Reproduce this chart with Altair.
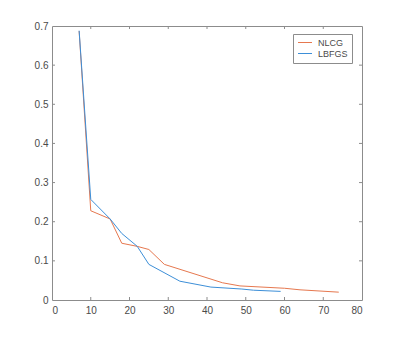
import altair as alt
import pandas as pd

# Data
nlcg_x = [7, 10, 15, 18, 22, 25, 29, 44, 48.5, 60, 64, 74]
nlcg_y = [0.687, 0.228, 0.207, 0.145, 0.137, 0.129, 0.091, 0.044, 0.036, 0.030, 0.026, 0.020]
lbfgs_x = [7, 10, 15, 18, 22, 25, 33, 41, 49, 52, 59]
lbfgs_y = [0.688, 0.257, 0.207, 0.170, 0.137, 0.091, 0.048, 0.033, 0.028, 0.025, 0.022]
methods = ["NLCG", "LBFGS"]
colors = ["#e6784f", "#3d8fd8"]
x_ticks = [0, 10, 20, 30, 40, 50, 60, 70, 80]
y_ticks = [0, 0.1, 0.2, 0.3, 0.4, 0.5, 0.6, 0.7]

rows = [{"iter": x, "err": y, "method": "NLCG"} for x, y in zip(nlcg_x, nlcg_y)]
rows += [{"iter": x, "err": y, "method": "LBFGS"} for x, y in zip(lbfgs_x, lbfgs_y)]
df = pd.DataFrame(rows)

W, H = 310, 274
FONT = "Liberation Sans"
AXC = "#8c8c8c"
TXT = "#4a4a4a"

xs = alt.Scale(domain=[0, 80], nice=False, zero=False)
ys = alt.Scale(domain=[0, 0.7], nice=False)
xaxis = alt.Axis(values=x_ticks, title=None, tickSize=0, domain=False, grid=False,
                 labelPadding=5, labelFontSize=10, labelColor=TXT, labelFont=FONT)
yaxis = alt.Axis(values=y_ticks, format="~g", title=None, tickSize=0, domain=False, grid=False,
                 labelPadding=4, labelFontSize=10, labelColor=TXT, labelFont=FONT)

lines = alt.Chart(df).mark_line(strokeWidth=1, clip=True).encode(
    x=alt.X("iter:Q", scale=xs, axis=xaxis),
    y=alt.Y("err:Q", scale=ys, axis=yaxis),
    color=alt.Color("method:N", scale=alt.Scale(domain=methods, range=colors),
                    legend=alt.Legend(title=None, orient="none", legendX=241, legendY=8,
                                      strokeColor=AXC, fillColor="white", padding=4,
                                      symbolType="M-1,0H3", symbolSize=49, symbolStrokeWidth=1,
                                      labelFontSize=9, labelFont=FONT, labelColor=TXT,
                                      rowPadding=1, labelOffset=12)),
)

xt = pd.DataFrame({"iter": x_ticks[1:-1]})
yt = pd.DataFrame({"err": y_ticks[1:-1]})

bottom = alt.Chart(xt).mark_rule(color=AXC, strokeWidth=1).encode(
    x=alt.X("iter:Q", scale=xs, axis=xaxis), y=alt.value(H), y2=alt.value(H - 3))
top = alt.Chart(xt).mark_rule(color=AXC, strokeWidth=1).encode(
    x=alt.X("iter:Q", scale=xs, axis=xaxis), y=alt.value(0), y2=alt.value(3))
left = alt.Chart(yt).mark_rule(color=AXC, strokeWidth=1).encode(
    y=alt.Y("err:Q", scale=ys, axis=yaxis), x=alt.value(0), x2=alt.value(3))
right = alt.Chart(yt).mark_rule(color=AXC, strokeWidth=1).encode(
    y=alt.Y("err:Q", scale=ys, axis=yaxis), x=alt.value(W), x2=alt.value(W - 3))

chart = alt.layer(bottom, top, left, right, lines).properties(
    width=W, height=H,
    autosize=alt.AutoSizeParams(type="none"),
    padding={"left": 52, "top": 26, "right": 38, "bottom": 37},
    background="white",
).configure_view(stroke=AXC, strokeWidth=1)

chart.save("out.html", embed_options={"renderer": "svg", "actions": False})
